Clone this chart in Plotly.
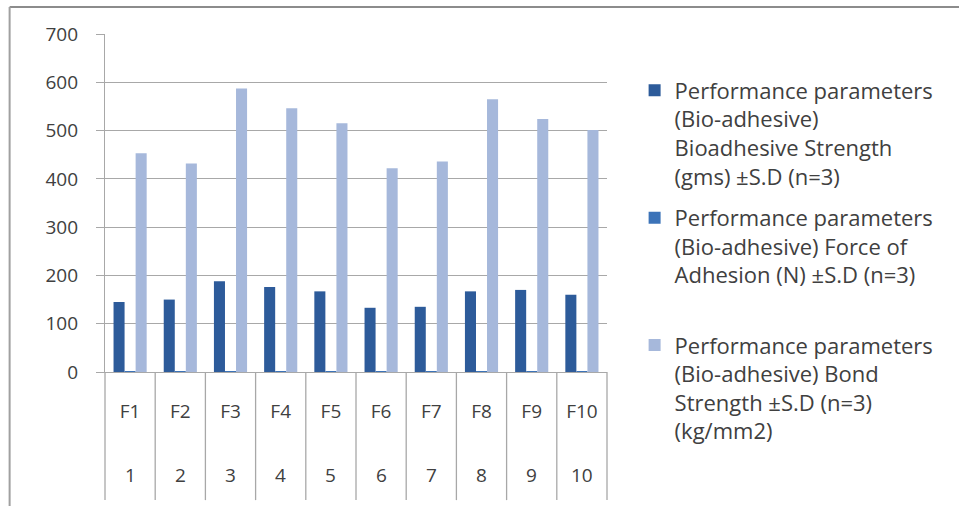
import plotly.graph_objects as go

# Formulation codes and their serial numbers (two-level category axis)
formulations = ["F1", "F2", "F3", "F4", "F5", "F6", "F7", "F8", "F9", "F10"]
serial_nos = ["1", "2", "3", "4", "5", "6", "7", "8", "9", "10"]

# Bio-adhesive performance parameters per formulation
bioadhesive_strength_gms = [145, 150, 188, 176, 167, 133, 135, 167, 170, 160]
force_of_adhesion_n = [1.42, 1.47, 1.84, 1.73, 1.64, 1.30, 1.32, 1.64, 1.67, 1.57]
bond_strength_kg_mm2 = [453, 432, 587, 546, 515, 422, 436, 565, 524, 501]

y_ticks = [0, 100, 200, 300, 400, 500, 600, 700]

names = [
    "Performance parameters<br>(Bio-adhesive)<br>Bioadhesive Strength<br>(gms) ±S.D (n=3)",
    "Performance parameters<br>(Bio-adhesive) Force of<br>Adhesion (N) ±S.D (n=3)<br> ",
    "Performance parameters<br>(Bio-adhesive) Bond<br>Strength ±S.D (n=3)<br>(kg/mm2)",
]
colors = ["#2D5B9A", "#3C73B8", "#A6B8DB"]
series = [bioadhesive_strength_gms, force_of_adhesion_n, bond_strength_kg_mm2]

FONT = "Open Sans"
TXT = "#404040"
GRID = "#A8A8A8"

fig = go.Figure()
for i, (name, vals, col) in enumerate(zip(names, series, colors)):
    fig.add_trace(go.Bar(
        x=formulations, y=vals, name=name, marker_color=col,
        marker_line_width=0, legendgroup=f"g{i}",
    ))

# vertical separators of the category axis, running through both label rows
shapes = []
for k in range(len(formulations) - 1):
    shapes.append(dict(type="line", xref="x", yref="paper",
                       x0=k + 0.5, x1=k + 0.5, y0=0, y1=-0.379,
                       line=dict(color=GRID, width=1.3)))
for xd in (0, 1):
    shapes.append(dict(type="line", xref="x domain", yref="paper",
                       x0=xd, x1=xd, y0=0, y1=-0.379,
                       line=dict(color=GRID, width=1.3)))
# chart frame (top and left edges)
shapes.append(dict(type="line", xref="paper", yref="paper",
                   x0=-0.19, x1=1.71, y0=1.08, y1=1.08,
                   line=dict(color="#8C8C8C", width=2)))
shapes.append(dict(type="line", xref="paper", yref="paper",
                   x0=-0.19, x1=-0.19, y0=1.08, y1=-0.40,
                   line=dict(color="#A0A0A0", width=2)))

# second row of category labels
annotations = [
    dict(x=f, y=-0.305, xref="x", yref="paper", text=s, showarrow=False,
         font=dict(family=FONT, size=19, color=TXT), yanchor="middle")
    for f, s in zip(formulations, serial_nos)
]

fig.update_layout(
    width=959, height=506,
    margin=dict(l=105, r=352, t=34, b=134),
    paper_bgcolor="white", plot_bgcolor="white",
    barmode="group", bargap=0.34, bargroupgap=0,
    font=dict(family=FONT, color=TXT),
    shapes=shapes, annotations=annotations,
    legend=dict(
        x=1.055, y=0.895, xanchor="left", yanchor="top",
        font=dict(family=FONT, size=22, color=TXT),
        valign="top", tracegroupgap=10, itemwidth=30,
        bgcolor="rgba(0,0,0,0)", maxheight=480,
    ),
    xaxis=dict(
        type="category", categoryorder="array", categoryarray=formulations,
        showgrid=False, showline=True, linecolor=GRID, linewidth=1.3,
        ticks="", tickfont=dict(family=FONT, size=19, color=TXT),
        ticklabelstandoff=22, zeroline=False,
    ),
    yaxis=dict(
        range=[0, 700], tickvals=y_ticks,
        showgrid=True, gridcolor=GRID, gridwidth=1.3,
        showline=True, linecolor=GRID, linewidth=1.3,
        ticks="outside", ticklen=8, tickcolor=GRID, tickwidth=1.3,
        tickfont=dict(family=FONT, size=19, color=TXT),
        ticklabelstandoff=14, zeroline=False,
    ),
)

fig.write_html("out.html")
